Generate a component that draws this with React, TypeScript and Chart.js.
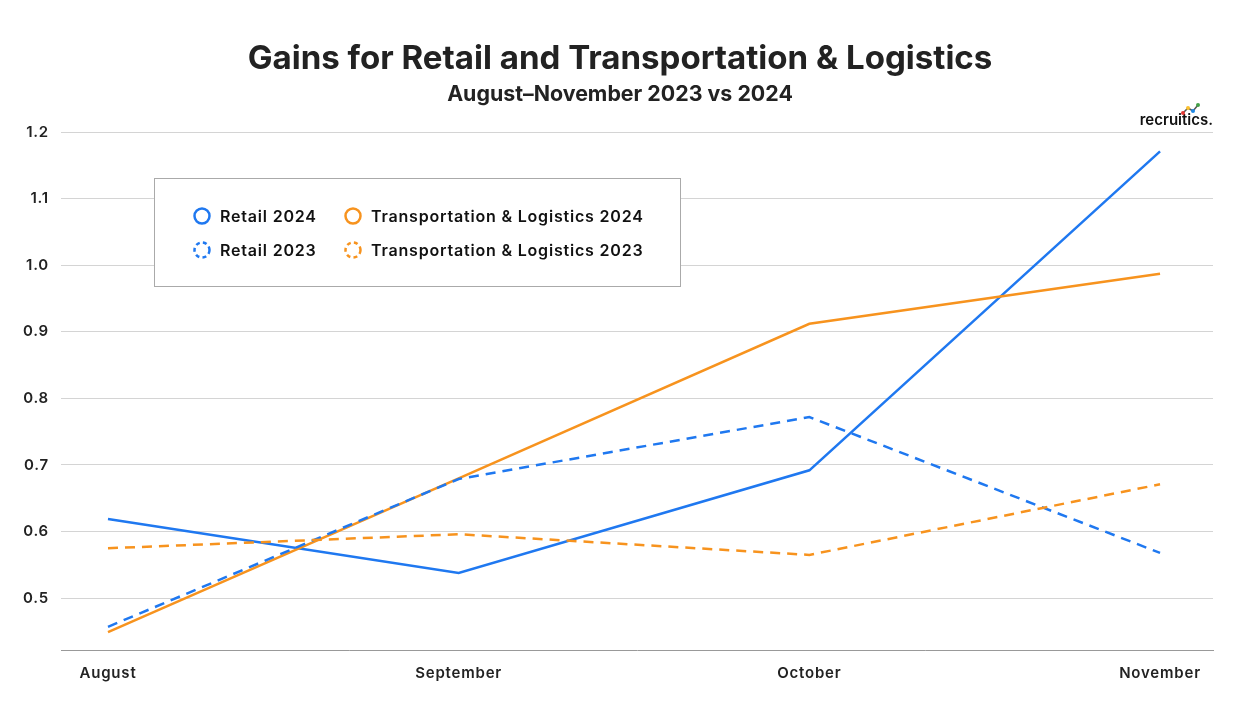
import React, { useEffect, useRef } from "react";
import { Chart, registerables } from "chart.js";

Chart.register(...registerables);

const months = ["August", "September", "October", "November"];
const retail2024 = [0.619, 0.538, 0.692, 1.171];
const retail2023 = [0.457, 0.679, 0.772, 0.568];
const tl2024 = [0.449, 0.68, 0.912, 0.987];
const tl2023 = [0.575, 0.596, 0.565, 0.671];
const yTicks = [0.5, 0.6, 0.7, 0.8, 0.9, 1.0, 1.1, 1.2];

const BLUE = "#1F78F0";
const ORANGE = "#F7931E";
const FONT = "Inter, 'Open Sans', sans-serif";

const toPts = (arr: number[]) => arr.map((v, i) => ({ x: i, y: v }));

function fitText(ctx: CanvasRenderingContext2D, text: string, weight: number, target: number) {
  ctx.font = `${weight} 100px ${FONT}`;
  const w = ctx.measureText(text).width;
  return (100 * target) / w;
}

const spacing = {
  id: "spacing",
  beforeDraw(chart: any) {
    (chart.ctx as any).letterSpacing = "0.8px";
  },
  afterDatasetsDraw(chart: any) {
    (chart.ctx as any).letterSpacing = "0px";
  },
};

const overlay = {
  id: "overlay",
  afterDraw(chart: any) {
    const ctx: any = chart.ctx;
    ctx.save();
    ctx.letterSpacing = "0px";
    ctx.fillStyle = "#222";
    ctx.textAlign = "center";
    ctx.textBaseline = "middle";
    const t = "Gains for Retail and Transportation & Logistics";
    const ts = fitText(ctx, t, 700, 745);
    ctx.font = `700 ${ts}px ${FONT}`;
    ctx.fillText(t, 620, 59);
    const s = "August–November 2023 vs 2024";
    const ss = fitText(ctx, s, 700, 346);
    ctx.font = `700 ${ss}px ${FONT}`;
    ctx.fillText(s, 620, 95);

    // legend box
    ctx.fillStyle = "#fff";
    ctx.fillRect(154.5, 178.5, 526, 108);
    ctx.strokeStyle = "#aaa";
    ctx.lineWidth = 1;
    ctx.strokeRect(154.5, 178.5, 526, 108);
    const items = [
      { c: BLUE, dash: false, label: "Retail 2024", x: 202, y: 216 },
      { c: ORANGE, dash: false, label: "Transportation & Logistics 2024", x: 353, y: 216 },
      { c: BLUE, dash: true, label: "Retail 2023", x: 202, y: 250 },
      { c: ORANGE, dash: true, label: "Transportation & Logistics 2023", x: 353, y: 250 },
    ];
    ctx.textAlign = "left";
    const ls = fitText(ctx, "Transportation & Logistics 2024", 600, 248);
    ctx.font = `600 ${ls}px ${FONT}`;
    ctx.letterSpacing = "0.8px";
    for (const it of items) {
      ctx.beginPath();
      ctx.strokeStyle = it.c;
      ctx.lineWidth = 2.5;
      ctx.setLineDash(it.dash ? [4, 3.2] : []);
      ctx.arc(it.x, it.y, 7.5, 0, Math.PI * 2);
      ctx.stroke();
      ctx.setLineDash([]);
      ctx.fillStyle = "#111";
      ctx.fillText(it.label, it.x + 18, it.y + 1);
    }
    ctx.letterSpacing = "0px";

    // logo
    ctx.fillStyle = "#111";
    ctx.textAlign = "right";
    ctx.font = `600 15px ${FONT}`;
    ctx.fillText("recruitics.", 1213, 120);
    const pts = [
      [1183, 113, "#E53935"],
      [1188, 108, "#FBC02D"],
      [1193, 111, "#1E88E5"],
      [1198, 105, "#43A047"],
    ] as const;
    ctx.lineWidth = 1.5;
    ctx.strokeStyle = "#555";
    ctx.beginPath();
    pts.forEach((p, i) => (i ? ctx.lineTo(p[0], p[1]) : ctx.moveTo(p[0], p[1])));
    ctx.stroke();
    for (const p of pts) {
      ctx.beginPath();
      ctx.fillStyle = p[2];
      ctx.arc(p[0], p[1], 2, 0, Math.PI * 2);
      ctx.fill();
    }
    ctx.restore();
  },
};

export default function App() {
  const ref = useRef<HTMLCanvasElement>(null);
  useEffect(() => {
    document.body.style.margin = "0";
    const lineDs = (label: string, data: number[], color: string, dashed: boolean) => ({
      label,
      data: toPts(data),
      borderColor: color,
      backgroundColor: color,
      borderWidth: 2.5,
      borderDash: dashed ? [10, 7] : [],
      pointRadius: 0,
      tension: 0,
      fill: false,
    });
    const chart = new Chart(ref.current!, {
      type: "line",
      data: {
        datasets: [
          lineDs("Transportation & Logistics 2023", tl2023, ORANGE, true),
          lineDs("Retail 2023", retail2023, BLUE, true),
          lineDs("Transportation & Logistics 2024", tl2024, ORANGE, false),
          lineDs("Retail 2024", retail2024, BLUE, false),
        ],
      },
      options: {
        animation: false,
        responsive: false,
        layout: { padding: { left: 0, right: 27, top: 132, bottom: 0 } },
        plugins: { legend: { display: false }, tooltip: { enabled: false }, title: { display: false } },
        scales: {
          x: {
            type: "linear",
            min: -0.134,
            max: 3.151,
            afterFit: (s: any) => { s.height = 56; },
            ticks: {
              stepSize: 1,
              includeBounds: false,
              padding: 14,
              color: "#222",
              font: { family: FONT, size: 15, weight: "600" },
              callback: (v: any) => (Number.isInteger(v) ? months[v] : ""),
              maxRotation: 0,
              autoSkip: false,
            },
            grid: { display: false, drawTicks: false },
            border: { display: true, color: "#999", width: 1 },
          },
          y: {
            min: 0.4222,
            max: 1.2,
            afterFit: (s: any) => { s.width = 61; },
            afterBuildTicks: (s: any) => { s.ticks = yTicks.map((v) => ({ value: v })); },
            ticks: {
              stepSize: 0.1,
              includeBounds: false,
              padding: 12,
              color: "#222",
              font: { family: FONT, size: 15, weight: "600" },
              callback: (v: any) => Number(v).toFixed(1),
            },
            grid: { color: "#d4d4d4", lineWidth: 1, drawTicks: false },
            border: { display: false },
          },
        },
      },
      plugins: [spacing, overlay],
    });
    return () => chart.destroy();
  }, []);
  return (
    <div style={{ width: 1240, height: 706, background: "#fff" }}>
      <canvas ref={ref} width={1240} height={706} style={{ display: "block" }} />
    </div>
  );
}
